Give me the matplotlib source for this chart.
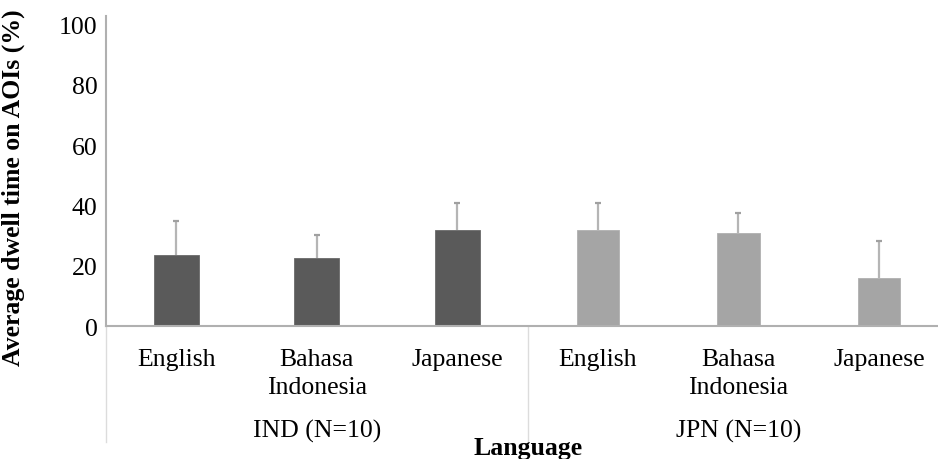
import matplotlib.pyplot as plt
from matplotlib.lines import Line2D

plt.rcParams['font.family'] = ['Liberation Serif', 'DejaVu Serif']

# data
groups = ["IND (N=10)", "JPN (N=10)"]
languages = ["English", "Bahasa\nIndonesia", "Japanese"]
ind_mean = [23.4, 22.5, 31.8]
ind_err = [11.4, 7.8, 8.9]
jpn_mean = [31.7, 30.8, 15.9]
jpn_err = [9.1, 6.7, 12.3]

dark = "#5a5a5a"
light = "#a5a5a5"
axis_gray = "#b0b0b0"
fs = 18.5

fig = plt.figure(figsize=(9.38, 4.6), dpi=100)
ax = fig.add_axes([106 / 938, 1 - 327 / 460, 832 / 938, (327 - 16.5) / 460])

x_ind = [0, 1, 2]
x_jpn = [3, 4, 5]
ax.bar(x_ind, ind_mean, width=0.32, color=dark, edgecolor="#6a6a6a", linewidth=0.6)
ax.bar(x_jpn, jpn_mean, width=0.30, color=light, edgecolor="#b0b0b0", linewidth=0.6)

# upper-only error bars
for xs, m, e in [(x_ind, ind_mean, ind_err), (x_jpn, jpn_mean, jpn_err)]:
    tops = [a + b for a, b in zip(m, e)]
    ax.vlines(xs, m, tops, color="#b5b5b5", linewidth=1.6, zorder=3)
    ax.plot(xs, tops, linestyle="none", marker="_", markersize=5,
            markeredgewidth=1.6, color="#a0a0a0", zorder=3)

ax.set_xlim(-0.5, 5.42)
ax.set_ylim(0, 103)
ax.set_yticks([0, 20, 40, 60, 80, 100])
ax.tick_params(axis="y", length=0, pad=6, labelsize=fs)
ax.set_xticks([])

for s in ["top", "right"]:
    ax.spines[s].set_visible(False)
ax.spines["left"].set_color(axis_gray)
ax.spines["bottom"].set_color(axis_gray)
ax.spines["left"].set_linewidth(1.5)
ax.spines["bottom"].set_linewidth(1.5)

# category labels, one line at a time (baselines from the reference)
trans = ax.get_xaxis_transform()
for i, lab in enumerate(languages * 2):
    for k, line in enumerate(lab.split("\n")):
        ax.text(i, -0.126 - 0.09 * k, line, transform=trans, ha="center",
                va="baseline", fontsize=fs)
for i, g in enumerate(groups):
    ax.text(1 + 3 * i, -0.357, g, transform=trans, ha="center", va="baseline", fontsize=fs)

for xs in [-0.5, 2.5]:
    ax.add_line(Line2D([xs, xs], [0, -0.375], transform=trans, color="#dcdcdc",
                       linewidth=1, clip_on=False))

ax.text(2.5, -0.412, "Language", transform=trans, ha="center", va="baseline",
        fontsize=fs, fontweight="bold")

ax.set_ylabel("Average dwell time on AOIs (%)", fontsize=fs, fontweight="bold")
ax.yaxis.set_label_coords(-0.097, 0.45)

fig.savefig("out.png", dpi=100)
